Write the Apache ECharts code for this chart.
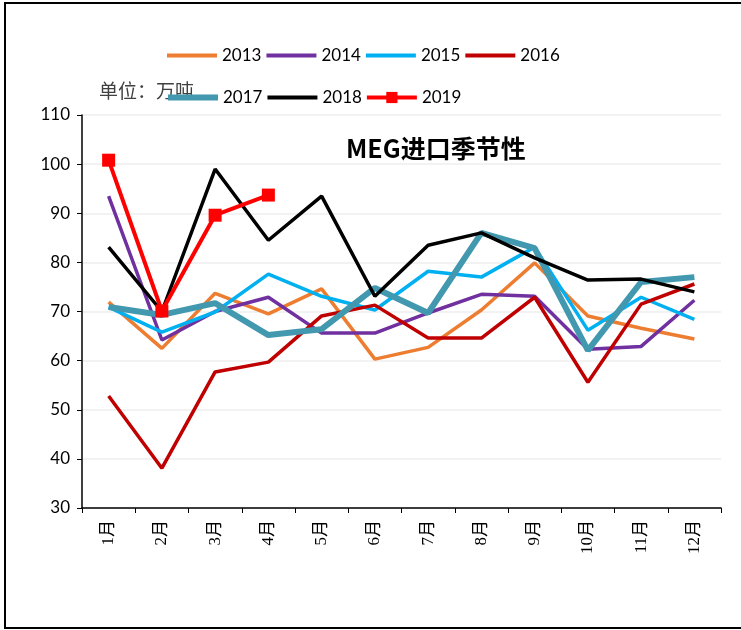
<!DOCTYPE html>
<html>
<head>
<meta charset="utf-8">
<script src="https://cdn.jsdelivr.net/npm/echarts@6/dist/echarts.min.js"></script>
<style>
    html, body {margin: 0; padding: 0; background: #fff;}
    #main {width: 741px; height: 630px;}
</style>
</head>
<body>
<div id="main"></div>
<script>
// 月份
const months = ['1月', '2月', '3月', '4月', '5月', '6月', '7月', '8月', '9月', '10月', '11月', '12月'];

// 各年进口量（万吨）
const y2013 = [71.9, 62.5, 73.7, 69.5, 74.6, 60.3, 62.7, 70.3, 79.9, 69.1, 66.6, 64.4];
const y2014 = [93.5, 64.2, 70.0, 72.9, 65.6, 65.6, 69.7, 73.5, 73.1, 62.3, 62.9, 72.3];
const y2015 = [70.9, 65.8, 69.9, 77.6, 73.1, 70.3, 78.2, 77.0, 83.1, 66.2, 72.9, 68.4];
const y2016 = [52.8, 38.1, 57.7, 59.7, 69.1, 71.3, 64.6, 64.6, 72.9, 55.6, 71.5, 75.6];
const y2017 = [70.9, 69.3, 71.7, 65.2, 66.4, 74.8, 69.7, 86.0, 82.9, 62.1, 76.0, 77.0];
const y2018 = [83.1, 70.0, 99.0, 84.5, 93.5, 73.1, 83.5, 86.0, 80.9, 76.4, 76.6, 74.0];
const y2019 = [100.8, 70.1, 89.6, 93.7];

const yTicks = [30, 110, 10]; // min, max, interval

const fontNum = 'Lato, "Open Sans", sans-serif';
const fontCjk = '"Noto Sans CJK SC", sans-serif';

const line = (name, data, color, width) => ({
    name: name,
    type: 'line',
    data: data,
    symbol: 'none',
    lineStyle: {color: color, width: width},
    itemStyle: {color: color}
});

// 图例只显示线段，不要圆点
const lineItem = (name, w) => ({name: name, itemStyle: {opacity: 0}, lineStyle: {width: w}});

const legendText = {fontFamily: fontNum, fontSize: 17, color: '#000'};

const myChart = echarts.init(document.getElementById('main'));
myChart.setOption({
    animation: false,
    title: {
        text: 'MEG进口季节性',
        left: 346,
        top: 136,
        padding: 0,
        textStyle: {fontFamily: fontCjk, fontSize: 25, fontWeight: 'bold', color: '#000'}
    },
    graphic: [
        {
            type: 'rect',
            shape: {x: 5, y: 3, width: 760, height: 625},
            style: {fill: 'none', stroke: '#000', lineWidth: 2},
            silent: true
        },
        {
            type: 'text',
            left: 99,
            top: 81,
            z: 0,
            style: {text: '单位：万吨', font: '19px "Noto Sans CJK SC"', fill: '#404040'}
        }
    ],
    legend: [
        {
            data: [lineItem('2013', 4), lineItem('2014', 4), lineItem('2015', 4), lineItem('2016', 4)],
            left: 165,
            top: 47,
            padding: 0,
            itemWidth: 50,
            itemHeight: 14,
            itemGap: 3,
            textStyle: legendText
        },
        {
            data: [lineItem('2017', 6), lineItem('2018', 4), {name: '2019', lineStyle: {width: 4}}],
            left: 165,
            top: 89,
            padding: 0,
            itemWidth: 50,
            itemHeight: 14,
            itemGap: 3,
            textStyle: legendText
        }
    ],
    grid: {left: 82, top: 115, right: 20, bottom: 122},
    xAxis: {
        type: 'category',
        data: months,
        boundaryGap: true,
        axisLine: {lineStyle: {color: '#000', width: 1.5}},
        axisTick: {show: true, length: 5, alignWithLabel: false, lineStyle: {color: '#000'}},
        axisLabel: {
            rotate: 90,
            margin: 12,
            fontFamily: '"Liberation Serif", "Noto Sans CJK SC", serif',
            fontSize: 17,
            color: '#000'
        }
    },
    yAxis: {
        type: 'value',
        min: yTicks[0],
        max: yTicks[1],
        interval: yTicks[2],
        axisLine: {show: true, lineStyle: {color: '#000', width: 1.5}},
        axisTick: {show: true, length: 5, inside: false, lineStyle: {color: '#000'}},
        splitLine: {lineStyle: {color: '#eeeeee', width: 1.5}},
        axisLabel: {fontFamily: fontNum, fontSize: 17, color: '#000', margin: 12}
    },
    series: [
        line('2013', y2013, '#ED7D31', 3.5),
        line('2014', y2014, '#7030A0', 3.5),
        line('2015', y2015, '#00B0F0', 3.5),
        line('2016', y2016, '#C00000', 3.5),
        line('2017', y2017, '#4198AF', 6),
        line('2018', y2018, '#000000', 3.5),
        {
            name: '2019',
            type: 'line',
            data: y2019,
            symbol: 'rect',
            symbolSize: 13,
            lineStyle: {color: '#FF0000', width: 4},
            itemStyle: {color: '#FF0000'},
            z: 5
        }
    ]
});
</script>
</body>
</html>
